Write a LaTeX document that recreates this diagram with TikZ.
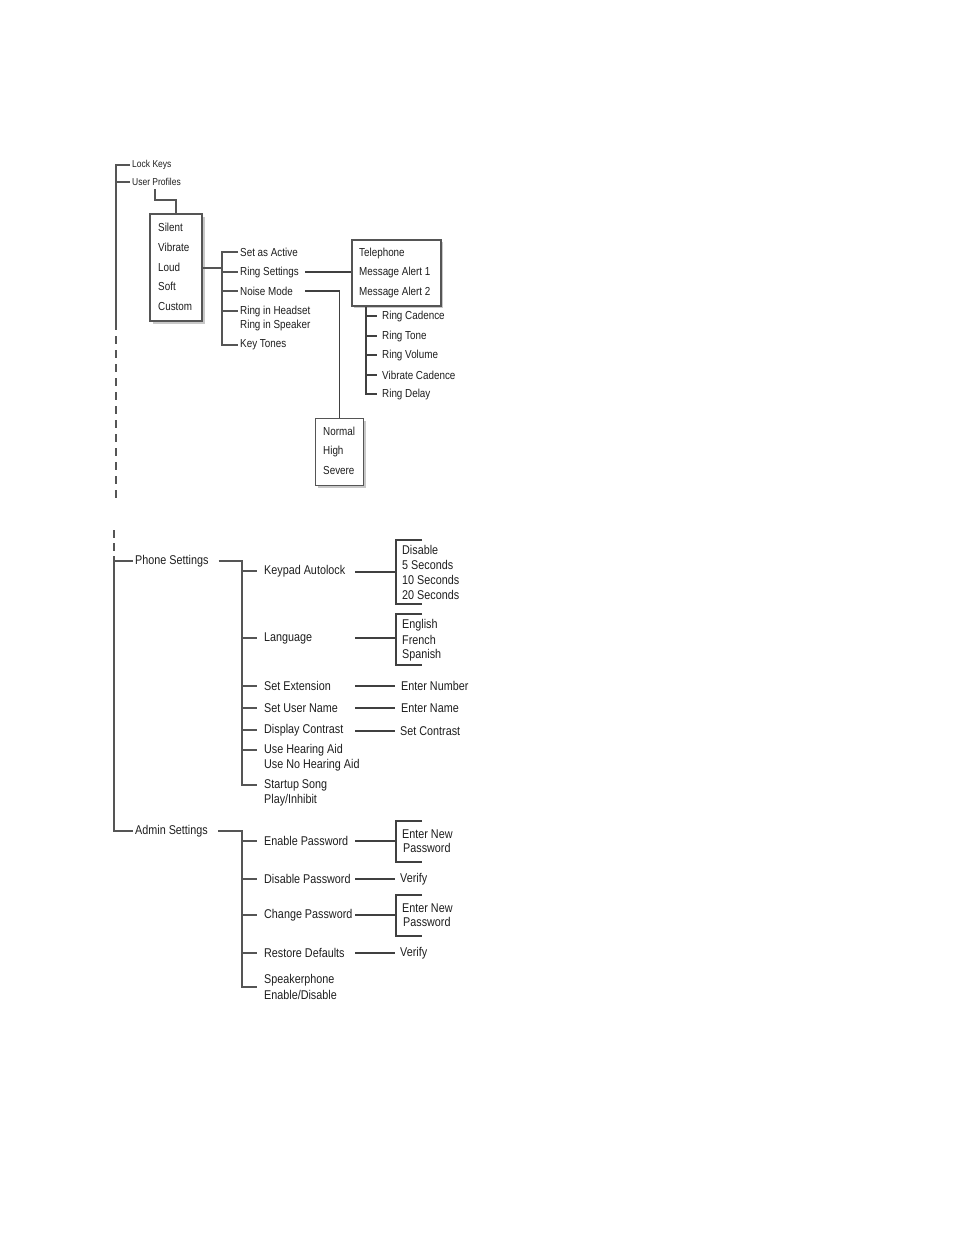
\documentclass[tikz,border=0pt]{standalone}
\usepackage{fontspec}
\setmainfont[FakeStretch=0.85]{Liberation Sans}
\usetikzlibrary{shadows}
\definecolor{ln}{HTML}{555555}
\definecolor{ln2}{HTML}{404040}
\definecolor{tx}{HTML}{1E1E1E}
\definecolor{shd}{HTML}{C8C8C8}
\begin{document}
\begin{tikzpicture}[x=1pt,y=-1pt,
  every node/.style={text=tx, inner xsep=2pt, inner ysep=0pt},
  ts/.style={anchor=west, font=\fontsize{10}{10}\selectfont},
  tm/.style={anchor=west, font=\fontsize{11.6}{12}\selectfont},
  tb/.style={anchor=west, font=\fontsize{12.7}{15}\selectfont},
  mainl/.style={draw=ln, line width=2.8pt},
  midl/.style={draw=ln, line width=2pt},
  thinl/.style={draw=ln2, line width=1.2pt},
  boxa/.style={draw=ln, fill=white, line width=2.4pt, anchor=north west,
    drop shadow={shadow xshift=2.5pt, shadow yshift=-2.5pt, fill=shd, opacity=1}},
  boxb/.style={draw=ln, fill=white, line width=1.6pt, anchor=north west,
    drop shadow={shadow xshift=2pt, shadow yshift=-2pt, fill=shd, opacity=1}},
  boxc/.style={draw=ln, fill=white, line width=1.1pt, anchor=north west,
    drop shadow={shadow xshift=2pt, shadow yshift=-2pt, fill=shd, opacity=1}},
  brk/.style={anchor=north west, minimum width=26pt, inner sep=0pt, outer sep=0pt},
]
\useasboundingbox (0,0) rectangle (954,1235);

% ---------------- top section ----------------
\node[ts] (lock) at (130,165) {Lock Keys};
\node[ts] (prof) at (130,182) {User Profiles};
\coordinate (mtop) at (116,164);
\coordinate (mdash) at (116,322);
\coordinate (mend) at (116,502);
\draw[mainl] (lock.west) -| (mdash);
\draw[midl] (prof.west) -- (prof.west -| mtop);
\draw[mainl, dash pattern=on 8pt off 6pt] (mdash) -- (mend);

% profiles box
\node[boxa, minimum width=52pt, minimum height=107pt] (pbox) at (149,213) {};
\node[tm] (silent) at (156,227) {Silent};
\node[tm] (vibrate) at (156,247) {Vibrate};
\node[tm] (loud) at (156,267) {Loud};
\node[tm] (soft) at (156,286) {Soft};
\node[tm] (custom) at (156,306) {Custom};
\coordinate (upx) at (155,189);
\draw[midl] (upx) -- (155,200) -| (pbox.north);

% profile options
\coordinate (va) at (222,0);
\node[tm] (active) at (238,252) {Set as Active};
\node[tm] (ringset) at (238,272) {Ring Settings};
\node[tm] (noise) at (238,291) {Noise Mode};
\node[tm] (headset) at (238,311) {Ring in Headset};
\node[tm] (speaker) at (238,325) {Ring in Speaker};
\node[tm] (keyt) at (238,345) {Key Tones};
\draw[midl] (active.west) -| (va |- keyt.west) -- (keyt.west);
\foreach \n in {ringset,noise,headset} \draw[midl] (va |- \n.west) -- (\n.west);
\draw[midl] (pbox.east) -- (va |- pbox.east);

% telephone box
\node[boxb, minimum width=89pt, minimum height=66pt] (tbox) at (351,239) {};
\node[tm] (tel) at (357,253) {Telephone};
\node[tm] (ma1) at (357,272) {Message Alert 1};
\node[tm] (ma2) at (357,292) {Message Alert 2};
\draw[thinl] ([xshift=4pt]ringset.east) -- (tbox.west |- ringset.east);

% ring sub-settings
\coordinate (vb) at (366,0);
\node[tm] (rcad) at (380,316) {Ring Cadence};
\node[tm] (rtone) at (380,336) {Ring Tone};
\node[tm] (rvol) at (380,355) {Ring Volume};
\node[tm] (vcad) at (380,375) {Vibrate Cadence};
\node[tm] (rdel) at (380,394) {Ring Delay};
\draw[thinl, shorten >=3pt] (vb |- tbox.south) |- (rdel.west);
\foreach \n in {rcad,rtone,rvol,vcad} \draw[thinl, shorten >=3pt] (vb |- \n.west) -- (\n.west);

% noise mode box
\node[boxc, minimum width=48pt, minimum height=67pt] (nbox) at (315,418) {};
\node[tm] (normal) at (321,431) {Normal};
\node[tm] (high) at (321,451) {High};
\node[tm] (severe) at (321,470) {Severe};
\draw[thinl] ([xshift=10pt]noise.east) -| (nbox.north);

% ---------------- bottom section ----------------
\node[tb] (phone) at (133,561) {Phone Settings};
\node[tb] (admin) at (133,831) {Admin Settings};
\coordinate (m2a) at (114,530);
\coordinate (m2) at (114,556);
\draw[mainl, dash pattern=on 8pt off 5pt] (m2a) -- (m2);
\draw[mainl] (m2) |- (admin.west);
\draw[midl] (m2 |- phone.west) -- (phone.west);

% phone settings
\coordinate (vc) at (242,0);
\coordinate (vx) at (355,0);
\node[tb] (keypad) at (262,571) {Keypad Autolock};
\node[tb] (lang) at (262,638) {Language};
\node[tb] (setext) at (262,686) {Set Extension};
\node[tb] (setuser) at (262,708) {Set User Name};
\node[tb] (disp) at (262,730) {Display Contrast};
\node[tb] (hear1) at (262,750) {Use Hearing Aid};
\node[tb] (hear2) at (262,765) {Use No Hearing Aid};
\node[tb] (start1) at (262,785) {Startup Song};
\node[tb] (start2) at (262,800) {Play/Inhibit};
\draw[mainl, shorten >=5pt] ([xshift=8pt]phone.east) -| (vc |- start1.west) -- (start1.west);
\foreach \n in {keypad,lang,setext,setuser,disp,hear1}
  \draw[midl, shorten >=5pt] (vc |- \n.west) -- (\n.west);

% keypad autolock bracket
\node[brk, minimum height=64pt] (kb) at (396,540) {};
\draw[thinl] (kb.north east) -- (kb.north west) -- (kb.south west) -- (kb.south east);
\draw[thinl] (vx |- kb.west) -- (kb.west);
\node[tb] (dis) at (400,550) {Disable};
\node[tb] (s5) at (400,565) {5 Seconds};
\node[tb] (s10) at (400,580) {10 Seconds};
\node[tb] (s20) at (400,595) {20 Seconds};

% language bracket
\node[brk, minimum height=51pt] (lb) at (396,614) {};
\draw[thinl] (lb.north east) -- (lb.north west) -- (lb.south west) -- (lb.south east);
\draw[thinl] (vx |- lang.west) -- (lb.west |- lang.west);
\node[tb] (eng) at (400,625) {English};
\node[tb] (fre) at (400,640) {French};
\node[tb] (spa) at (400,655) {Spanish};

% simple results
\node[tb] (enum) at (399,686) {Enter Number};
\node[tb] (ename) at (399,708) {Enter Name};
\node[tb] (scon) at (398,731) {Set Contrast};
\draw[thinl, shorten >=4pt] (vx |- enum.west) -- (enum.west);
\draw[thinl, shorten >=4pt] (vx |- ename.west) -- (ename.west);
\draw[thinl, shorten >=3pt] (vx |- scon.west) -- (scon.west);

% admin settings
\node[tb] (enpw) at (262,841) {Enable Password};
\node[tb] (dipw) at (262,879) {Disable Password};
\node[tb] (chpw) at (262,915) {Change Password};
\node[tb] (rest) at (262,953) {Restore Defaults};
\node[tb] (spk1) at (262,980) {Speakerphone};
\node[tb] (spk2) at (262,995) {Enable/Disable};
\coordinate (vd) at (242,987);
\draw[mainl, shorten >=5pt] ([xshift=8pt]admin.east) -| (vd) -- (spk1.west |- vd);
\foreach \n in {enpw,dipw,chpw,rest}
  \draw[midl, shorten >=5pt] (vc |- \n.west) -- (\n.west);

% enable password bracket
\node[brk, minimum height=41pt] (eb1) at (396,821) {};
\draw[thinl] (eb1.north east) -- (eb1.north west) -- (eb1.south west) -- (eb1.south east);
\draw[thinl] (vx |- enpw.west) -- (eb1.west |- enpw.west);
\node[tb] (en1) at (400,834) {Enter New};
\node[tb] (pw1) at (401,848) {Password};

\node[tb] (ver1) at (398,879) {Verify};
\draw[thinl, shorten >=3pt] (vx |- ver1.west) -- (ver1.west);

% change password bracket
\node[brk, minimum height=41pt] (eb2) at (396,895) {};
\draw[thinl] (eb2.north east) -- (eb2.north west) -- (eb2.south west) -- (eb2.south east);
\draw[thinl] (vx |- chpw.west) -- (eb2.west |- chpw.west);
\node[tb] (en2) at (400,908) {Enter New};
\node[tb] (pw2) at (401,922) {Password};

\node[tb] (ver2) at (398,953) {Verify};
\draw[thinl, shorten >=3pt] (vx |- ver2.west) -- (ver2.west);
\end{tikzpicture}
\end{document}
